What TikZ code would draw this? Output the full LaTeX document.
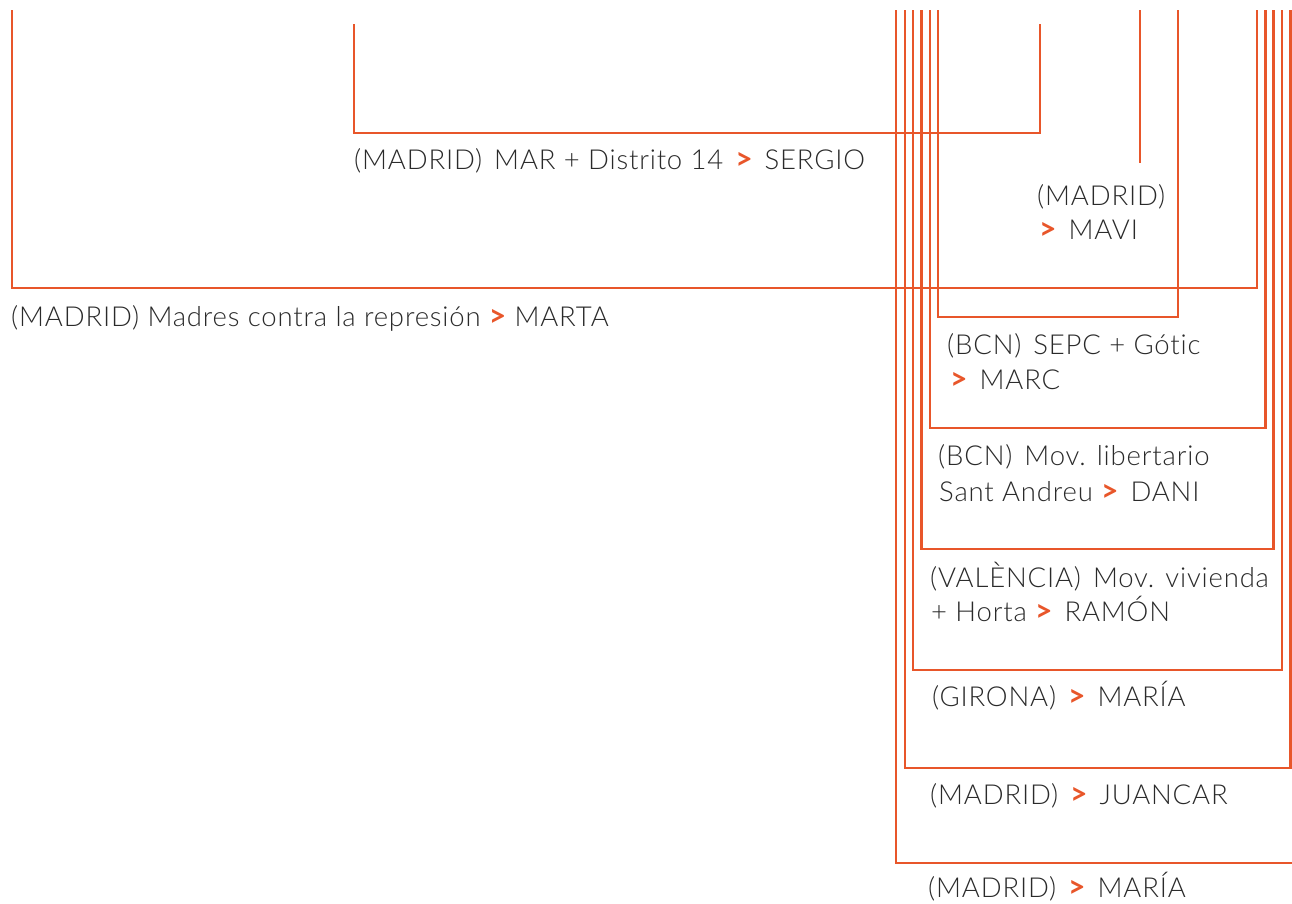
\documentclass[tikz,border=0pt]{standalone}
\usepackage{fontspec}
\setmainfont{Lato}[UprightFont={* Light},BoldFont={* Bold},LetterSpace=3,Ligatures={NoCommon}]
\definecolor{accent}{HTML}{E8562A}
\definecolor{ink}{HTML}{2A2A2A}
\newcommand\myarr{{\color{accent}\bfseries\fontsize{30}{32}\selectfont >}}
\newcommand\mygap{\hspace{12pt}}
\begin{document}
\begin{tikzpicture}[x=1pt,y=-1pt,
  bracket/.style={draw=accent,line width=2.8pt},
  lbl/.style={anchor=base west,inner sep=0pt,text=ink,font=\fontsize{27.5}{32}\selectfont}]
\useasboundingbox (0,0) rectangle (1292,903);
\clip (0,0) rectangle (1292,903);
% bracket end points
\coordinate (sergioA) at (354,24);  \coordinate (sergioB) at (1040,24);
\coordinate (maviA) at (1140,10);   \coordinate (maviB) at (1140,163);
\coordinate (martaA) at (12,10);    \coordinate (martaB) at (1257,10);
\coordinate (marcA) at (938,10);    \coordinate (marcB) at (1178,10);
\coordinate (daniA) at (930,10);    \coordinate (daniB) at (1265.5,10);
\coordinate (ramonA) at (921.5,10); \coordinate (ramonB) at (1273.5,10);
\coordinate (gironaA) at (913,10);  \coordinate (gironaB) at (1282,10);
\coordinate (juanA) at (905,10);    \coordinate (juanB) at (1290.5,10);
\coordinate (mariaA) at (896,10);   \coordinate (mariaB) at (1300,863);
% brackets
\draw[bracket] (sergioA) |- (1040,133) -- (sergioB);
\draw[bracket] (maviA) -- (maviB);
\draw[bracket] (martaA) |- (1257,288) -- (martaB);
\draw[bracket] (marcA) |- (1178,317) -- (marcB);
\draw[bracket] (daniA) |- (1265.5,428) -- (daniB);
\draw[bracket] (ramonA) |- (1273.5,549) -- (ramonB);
\draw[bracket] (gironaA) |- (1282,670) -- (gironaB);
\draw[bracket] (juanA) |- (1290.5,768) -- (juanB);
\draw[bracket] (mariaA) |- (mariaB);
% labels
\node[lbl] (sergio) at (354,169) {(MADRID)\mygap MAR + Distrito 14\mygap\myarr\mygap SERGIO};
\node[lbl] (mavi1) at (1037,205) {(MADRID)};
\node[lbl] (mavi2) at (1039,239) {\myarr\mygap MAVI};
\node[lbl] (marta) at (11,326) {(MADRID) Madres contra la represión \myarr\ MARTA};
\node[lbl] (marc1) at (947,354) {(BCN)\mygap SEPC + Gótic};
\node[lbl] (marc2) at (950,389) {\myarr\mygap MARC};
\node[lbl] (dani1) at (938,465) {(BCN)\mygap Mov. libertario};
\node[lbl] (dani2) at (939,501) {Sant Andreu \myarr\mygap DANI};
\node[lbl] (ramon1) at (930,587) {(VALÈNCIA)\mygap Mov. vivienda};
\node[lbl] (ramon2) at (931,621) {+ Horta \myarr\mygap RAMÓN};
\node[lbl] (girona) at (932,706) {(GIRONA)\mygap\myarr\mygap MARÍA};
\node[lbl] (juancar) at (930,804) {(MADRID)\mygap\myarr\mygap JUANCAR};
\node[lbl] (maria) at (928,897) {(MADRID)\mygap\myarr\mygap MARÍA};
\end{tikzpicture}
\end{document}
